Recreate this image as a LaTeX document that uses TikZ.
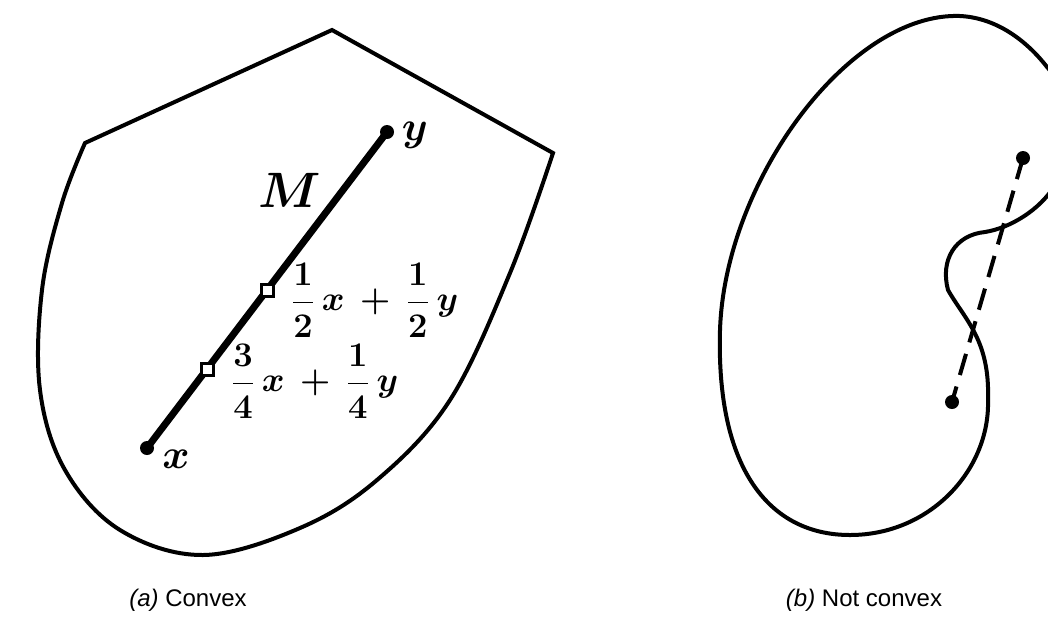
\documentclass[tikz,border=0pt]{standalone}
\usepackage{amsmath}
\usepackage{fontspec}
\newfontfamily\capfont{Liberation Sans}
\usetikzlibrary{calc,positioning}

\begin{document}
\begin{tikzpicture}[x=0.5pt, y=-0.5pt,
    outline/.style={line width=2pt, line join=miter},
    segline/.style={line width=3.5pt, line cap=round},
    dashline/.style={line width=2pt, dash pattern=on 11pt off 6pt},
    endpt/.style={circle, fill=black, inner sep=0pt, minimum size=7pt},
    opensq/.style={rectangle, draw=black, line width=1.5pt, fill=white, inner sep=0pt, minimum size=6pt},
    ptlabel/.style={font=\fontsize{21}{23}\selectfont\boldmath, inner sep=0pt},
    fraclabel/.style={font=\fontsize{16}{18}\selectfont\boldmath, inner sep=0pt},
    caption/.style={font=\fontsize{12}{14}\selectfont\capfont}]
  \clip (0,0) rectangle (1048,633);
  % --- (a) convex set: three straight edges on top, round below ---
  \draw[outline] plot[smooth, tension=0.6] coordinates {
      (553,153) (510,273) (450,400) (377,480) (300,528) (203,555)
      (120,530) (65,470) (40,390) (42,290) (62,203) (85,143)}
    -- (332,30) -- cycle;
  % segment M from x to y
  \coordinate (px) at (147,448);
  \coordinate (py) at (387,132);
  \draw[segline] (px) -- (py);
  \node[endpt] (dotx) at (px) {};
  \node[endpt] (doty) at (py) {};
  \node[opensq] (half) at ($(px)!0.5!(py)$) {};
  \node[opensq] (quarter) at ($(px)!0.25!(py)$) {};
  \node[ptlabel] (lblx) at (176,459) {$x$};
  \node[ptlabel] (lbly) at (415,135) {$y$};
  \node[font=\fontsize{24}{26}\selectfont\boldmath, inner sep=0pt] (lblM) at (290,190) {$M$};
  \node[fraclabel, right=8pt of half, yshift=-5pt] (lblhalf)
    {$\dfrac{1}{2}\,x\,+\,\dfrac{1}{2}\,y$};
  \node[fraclabel, right=8pt of quarter, yshift=-6pt] (lblquarter)
    {$\dfrac{3}{4}\,x\,+\,\dfrac{1}{4}\,y$};
  % --- (b) kidney shape, not convex ---
  \draw[outline] (960,16) .. controls (850,12) and (725,180) .. (720,330)
    .. controls (716,470) and (770,535) .. (850,535)
    .. controls (930,535) and (990,470) .. (988,400)
    .. controls (990,340) and (965,320) .. (948,290)
    .. controls (940,260) and (955,235) .. (985,232)
    .. controls (1010,228) and (1040,210) .. (1055,185)
    .. controls (1080,140) and (1068,90) .. (1047,67)
    .. controls (1030,45) and (1000,18) .. (960,16) -- cycle;
  \coordinate (qa) at (1023,158);
  \coordinate (qb) at (952,402);
  \draw[dashline] (qa) -- (qb);
  \node[endpt] (dota) at (qa) {};
  \node[endpt] (dotb) at (qb) {};
  % captions
  \node[caption] (capa) at (188,600) {\textit{(a)} Convex};
  \node[caption] (capb) at (864,600) {\textit{(b)} Not convex};
\end{tikzpicture}
\end{document}
